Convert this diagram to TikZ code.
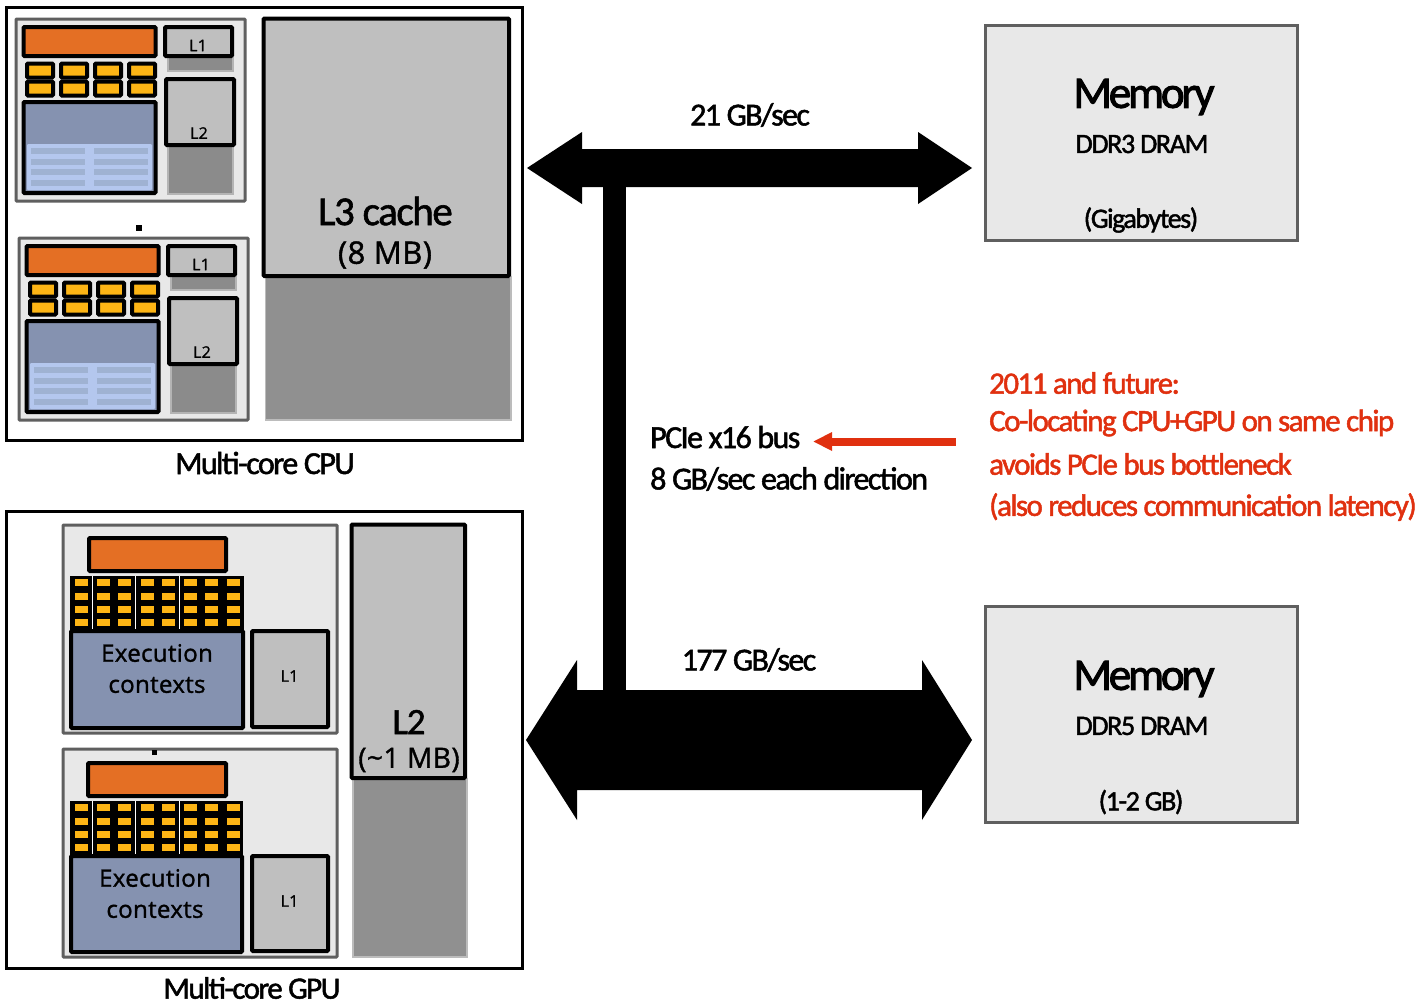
\documentclass[tikz,border=0pt]{standalone}
\usepackage{fontspec}
\setmainfont{Carlito}
\newfontfamily\tightfont[LetterSpace=-3.5,FakeBold=1.4]{Carlito}
\newfontfamily\midfont[LetterSpace=-5,FakeBold=1.6]{Carlito}
\newfontfamily\headfont[LetterSpace=-7,FakeBold=2.2]{Carlito}
\newfontfamily\boxfont[FakeBold=1.3,LetterSpace=1.5]{Open Sans}
\definecolor{panel}{HTML}{E8E8E8}
\definecolor{edge}{HTML}{5F5F5F}
\definecolor{cachegray}{HTML}{BFBFBF}
\definecolor{shade}{HTML}{8B8B8B}
\definecolor{shadebig}{HTML}{909090}
\definecolor{orangeblk}{HTML}{E46F24}
\definecolor{yellowblk}{HTML}{FDB515}
\definecolor{bluegray}{HTML}{8592B0}
\definecolor{lightblue}{HTML}{B4C7EE}
\definecolor{stripblue}{HTML}{9FB2D2}
\definecolor{redtext}{HTML}{E0300F}
\tikzset{
  frame/.style={draw=black,line width=3pt,fill=white},
  corepanel/.style={draw=edge,line width=3pt,fill=panel,rounded corners=0.8pt},
  blk/.style={draw=black,line width=4pt,rounded corners=1pt},
  orangebox/.style={blk,fill=orangeblk},
  yellowbox/.style={blk,fill=yellowblk},
  bluebox/.style={blk,fill=bluegray},
  cachebox/.style={blk,fill=cachegray},
  shadebox/.style={fill=shade,draw=shade!65!white,line width=1.5pt},
  bigshade/.style={fill=shadebig,draw=shadebig!60!white,line width=1.5pt},
  midtext/.style={font=\midfont\fontsize{32}{34}\selectfont,inner sep=0pt,anchor=west},
  redline/.style={font=\midfont\fontsize{31}{33}\selectfont,inner sep=0pt,anchor=west,text=redtext},
  captext/.style={font=\midfont\fontsize{32}{34}\selectfont,inner sep=0pt},
  memhead/.style={font=\headfont\fontsize{45}{47}\selectfont,inner sep=0pt},
  memtext/.style={font=\midfont\fontsize{28}{30}\selectfont,inner sep=0pt},
  smalltext/.style={font=\boxfont\fontsize{#1}{#1}\selectfont,inner sep=0pt,text=black},
  wide/.style={fill=black},
  redarrow/.style={draw=redtext,line width=8pt}
}
\newcommand{\cpucore}[3]{%
\begin{scope}[shift={(#2,#3)}]
  \draw[corepanel] (16,19) rectangle (245,201);
  \fill[shadebox] (168,57) rectangle (233,71);
  \fill[shadebox] (168,145) rectangle (233,194);
  \draw[orangebox] (23.5,27) rectangle (155.5,56);
  \draw[cachebox] (165,27) rectangle (232,56);
  \node[smalltext=16] (lone#1) at (198,45.5) {L1};
  \draw[cachebox] (166,79) rectangle (234,145);
  \node[smalltext=16] (ltwo#1) at (199,133) {L2};
  \foreach \cx in {27,61,95,129}{
    \draw[yellowbox] (\cx,63.5) rectangle ++(26,14);
    \draw[yellowbox] (\cx,81.5) rectangle ++(26,14);
  }
  \draw[bluebox] (23.5,102) rectangle (155.5,193);
  \fill[lightblue,rounded corners=1pt] (27,144) rectangle (152,190);
  \foreach \sy in {148,159,169,180}{
    \fill[stripblue] (31,\sy) rectangle (85,\sy+6);
    \fill[stripblue] (94,\sy) rectangle (148,\sy+6);
  }
\end{scope}}
\newcommand{\gpucore}[8]{%
\draw[corepanel] (63,#2) rectangle (337,#2+208);
\draw[orangebox] (#3,#4) rectangle (226,#4+33);
\fill[black] (70,#7-55) rectangle (#5+1,#7);
\foreach \gx in {81,103,124,147,168,190,211,233}{
  \foreach \gy in {6,20,33,46}{
    \fill[yellowblk] (\gx-6.5,#7-55+\gy-3) rectangle ++(13,7);
  }
}
\foreach \wx in {92.5,135.5,179}{
  \draw[white,line width=0.5pt] (\wx,#7-55) -- (\wx,#7-1);
}
\draw[bluebox] (71,#7) rectangle (#5,#8);
\node[smalltext=24] (exa#1) at (#6,#7+22) {Execution};
\node[smalltext=24] (exb#1) at (#6,#7+54) {contexts};
\draw[cachebox] (252,#7) rectangle (328,#8-1);
\node[smalltext=16] (gl#1) at (289.5,#7+45) {L1};
}
\begin{document}
\begin{tikzpicture}[x=1pt,y=-1pt]
\useasboundingbox (0,0) rectangle (1424,1005);
% CPU
\draw[frame] (6.5,7.5) rectangle (522,440);
\cpucore{1}{0}{0}
\cpucore{2}{3}{219}
\fill[black] (136,225) rectangle (142,231);
\fill[bigshade] (265.5,277) rectangle (511,420);
\draw[cachebox] (263.5,18.5) rectangle (509,276);
\node[font=\tightfont\fontsize{41}{43}\selectfont,inner sep=0pt] (lthree) at (385.5,211) {L3 cache};
\node[font=\boxfont\fontsize{31}{33}\selectfont,inner sep=0pt,text=black] (lthreesize) at (385,255) {(8 MB)};
\node[captext] (cpucap) at (265,463) {Multi-core CPU};
% GPU
\draw[frame] (6.5,511) rectangle (522,968);
\gpucore{1}{525}{89}{538}{243}{157}{631}{728}
\gpucore{2}{749}{88}{763}{242}{155}{856}{952}
\fill[black] (152,750) rectangle (157,755);
\fill[bigshade] (353,779) rectangle (467,957);
\draw[cachebox] (351.5,524.5) rectangle (465,778);
\node[font=\tightfont\fontsize{37}{39}\selectfont,inner sep=0pt] (ltwog) at (409,722) {L2};
\node[font=\boxfont\fontsize{28}{30}\selectfont,inner sep=0pt,text=black] (ltwosize) at (409,760) {(\textasciitilde1 MB)};
\node[font=\midfont\fontsize{31}{33}\selectfont,inner sep=0pt] (gpucap) at (252,988) {Multi-core GPU};
% Buses
\fill[wide] (603,180) rectangle (626,700);
\fill[wide] (527,168) -- (582,132) -- (582,149) -- (918,149) -- (918,132) -- (972,168) -- (918,204) -- (918,187) -- (582,187) -- (582,204) -- cycle;
\fill[wide] (526,740) -- (577,660) -- (577,690) -- (922,690) -- (922,660) -- (972,740) -- (922,820) -- (922,790) -- (577,790) -- (577,820) -- cycle;
\node[captext] (topbw) at (750,115) {21 GB/sec};
\node[captext] (botbw) at (749,660) {177 GB/sec};
% Memories
\node[draw=edge,line width=3pt,fill=panel,minimum width=312pt,minimum height=215pt,inner sep=0pt] (memtop) at (1141,132.5) {};
\node[draw=edge,line width=3pt,fill=panel,minimum width=312pt,minimum height=216pt,inner sep=0pt] (membot) at (1141,714) {};
\node[memhead] (mta) at (1144,97) {Memory};
\node[memtext] (mtb) at (1142,144) {DDR3 DRAM};
\node[memtext] (mtc) at (1141,220) {(Gigabytes)};
\node[memhead] (mba) at (1144,679) {Memory};
\node[memtext] (mbb) at (1142,726) {DDR5 DRAM};
\node[memtext] (mbc) at (1141,802) {(1-2 GB)};
% Labels
\node[midtext] (pciea) at (650,437) {PCIe x16 bus};
\node[midtext] (pcieb) at (650,479) {8 GB/sec each direction};
\node[redline] (ra) at (989,383) {2011 and future:};
\node[redline] (rb) at (989,423) {Co-locating CPU+GPU on same chip};
\node[redline] (rc) at (989,464) {avoids PCIe bus bottleneck};
\node[redline] (rd) at (989,507) {(also reduces communication  latency)};
\coordinate (arrowstart) at (955.5,441.5);
\coordinate (arrowend) at (832,441.5);
\draw[redarrow] (arrowstart) -- (arrowend);
\fill[redtext] (813.5,441.5) -- (832,432) -- (832,451) -- cycle;
\end{tikzpicture}
\end{document}
